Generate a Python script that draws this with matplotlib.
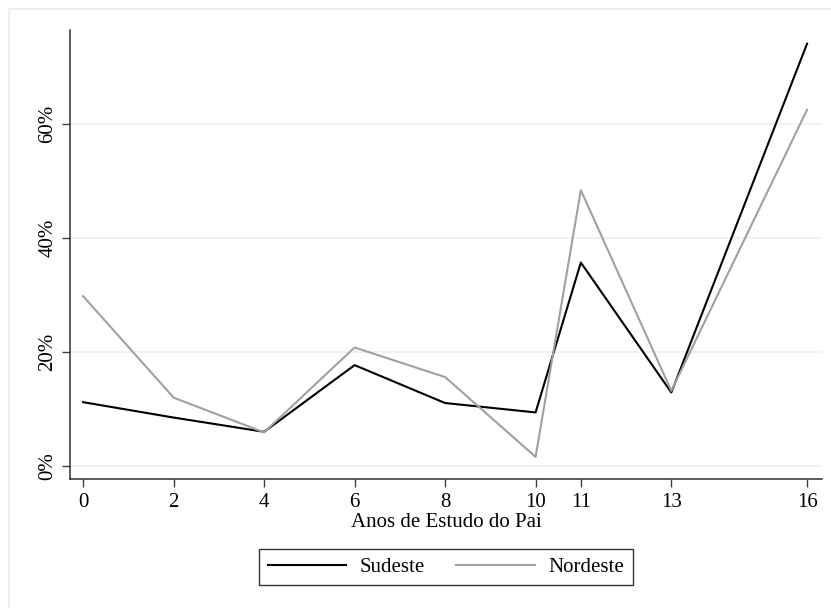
import matplotlib
matplotlib.use("Agg")
import matplotlib.pyplot as plt
from matplotlib.patches import Rectangle
from matplotlib.ticker import FuncFormatter

# data
anos = [0, 2, 4, 6, 8, 10, 11, 13, 16]
sudeste = [11.2, 8.5, 6.0, 17.7, 11.05, 9.4, 35.7, 12.9, 74.1]
nordeste = [29.8, 12.0, 5.9, 20.8, 15.6, 1.6, 48.4, 13.2, 62.5]
yticks = [0, 20, 40, 60]

plt.rcParams['font.family'] = ['Liberation Serif', 'DejaVu Serif']
plt.rcParams['font.size'] = 15

fig = plt.figure(figsize=(8.31, 6.08), dpi=100)
ax = fig.add_axes([70 / 831, 1 - 479 / 608, (822 - 70) / 831, (479 - 30) / 608])

# light outer frame like Stata's graph region
fig.patches.append(Rectangle((9 / 831, -0.1), 1.2, 1.1 - 9 / 608,
                             transform=fig.transFigure, fill=False,
                             edgecolor='#E8F0F2', linewidth=1.2, zorder=0))

ax.plot(anos, sudeste, color='black', lw=1.5, label='Sudeste', zorder=3)
ax.plot(anos, nordeste, color='#A0A0A0', lw=1.5, label='Nordeste', zorder=3)

ax.set_xlim(-0.29, 16.33)
ax.set_ylim(-2.28, 76.5)
ax.set_xticks(anos)
ax.set_yticks(yticks)
ax.yaxis.set_major_formatter(FuncFormatter(lambda v, p: f"{v:.0f}%"))
for lab in ax.get_yticklabels():
    lab.set_rotation(90)
    lab.set_va('center')

ax.grid(axis='y', color='#EAF2F3', lw=1.3)
ax.set_axisbelow(True)
ax.tick_params(axis='both', length=6, width=1, color='#404040')
ax.tick_params(axis='x', pad=4)
ax.tick_params(axis='y', pad=3)
for s in ['top', 'right']:
    ax.spines[s].set_visible(False)
for s in ['left', 'bottom']:
    ax.spines[s].set_color('#303030')
    ax.spines[s].set_linewidth(1.1)

ax.set_xlabel('Anos de Estudo do Pai', labelpad=1)

leg = fig.legend(loc='center', bbox_to_anchor=(446 / 831, 1 - 567 / 608),
                 ncol=2, frameon=True, fancybox=False, edgecolor='black',
                 handlelength=3.75, columnspacing=1.5, handletextpad=0.67,
                 borderpad=0.4)
leg.get_frame().set_linewidth(1.0)

fig.savefig('out.png', dpi=100, facecolor='white')
